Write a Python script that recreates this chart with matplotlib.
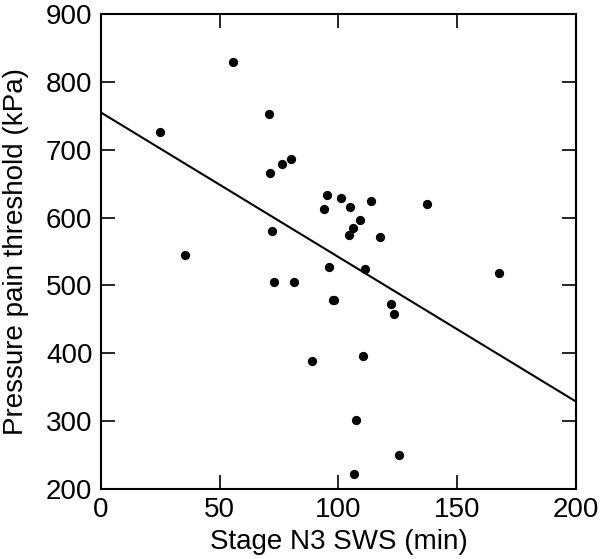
import numpy as np
import matplotlib
matplotlib.use("Agg")
import matplotlib.pyplot as plt

# Dados
sws_min = [25.0, 35.5, 55.6, 70.6, 71.2, 72.0, 73.0, 76.1, 80.1, 81.4,
           89.0, 93.8, 95.0, 96.0, 97.6, 98.3, 101.1, 104.6, 105.0, 106.2,
           106.7, 107.5, 109.1, 110.2, 111.1, 113.6, 117.6, 122.2, 123.6, 125.7,
           137.1, 167.6]
ppt_kpa = [726, 545, 829, 752, 666, 580, 505, 679, 686, 505,
           389, 612, 633, 527, 479, 478, 629, 574, 615, 584,
           222, 302, 596, 396, 524, 624, 571, 472, 458, 250,
           620, 519]

# Reta de regressão
fit_intercept = 755.0
fit_slope = -2.13

plt.rcParams['font.family'] = ['Liberation Sans', 'DejaVu Sans']

fig = plt.figure(figsize=(6.0, 5.59), dpi=100)
ax = fig.add_axes([0.168, 0.125, 0.792, 0.85])

ax.scatter(sws_min, ppt_kpa, s=32, color='black', zorder=3)
xl = np.array([0, 200])
ax.plot(xl, fit_intercept + fit_slope*xl, color='black', lw=1.5)

ax.set_xlim(0, 200)
ax.set_ylim(200, 900)
ax.set_xticks([0, 50, 100, 150, 200])
ax.set_yticks(range(200, 901, 100))
ax.tick_params(direction='in', length=10, width=1.2, labelsize=20,
               top=True, right=True, pad=6)
for s in ax.spines.values():
    s.set_linewidth(1.5)

ax.set_xlabel("Stage N3 SWS (min)", fontsize=20, labelpad=4)
ax.set_ylabel("Pressure pain threshold (kPa)", fontsize=20, labelpad=12)

plt.savefig("out.png", dpi=100)
